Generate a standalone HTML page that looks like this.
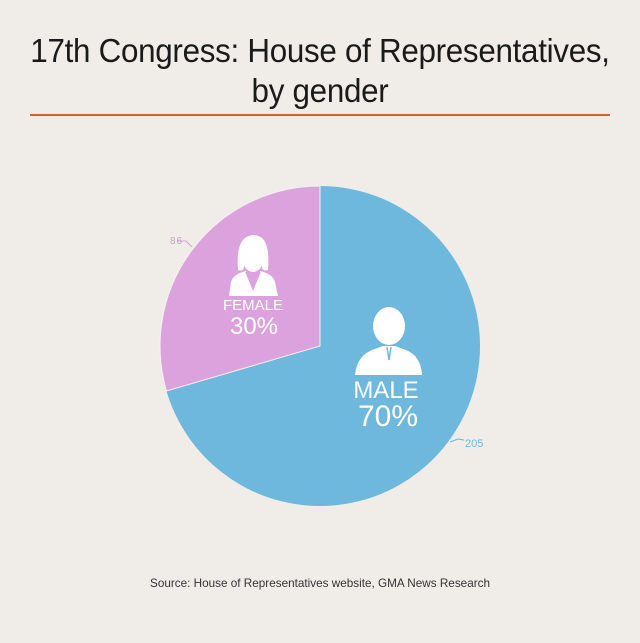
<!DOCTYPE html>
<html><head><meta charset="utf-8"><style>
html,body{margin:0;padding:0;background:#f0ede8;}
body{width:640px;height:643px;position:relative;overflow:hidden;font-family:"Liberation Sans",sans-serif;}
.t{position:absolute;left:0;width:640px;text-align:center;color:#1a1a1a;font-size:33px;letter-spacing:-0.3px;transform:scaleX(0.95);}
</style></head><body>
<div class="t" style="top:32px">17th Congress: House of Representatives,</div>
<div class="t" style="top:72px">by gender</div>
<div style="position:absolute;left:30px;top:114px;width:580px;height:2px;background:#d4622e"></div>
<svg width="640" height="643" style="position:absolute;left:0;top:0" xmlns="http://www.w3.org/2000/svg">
<circle cx="320" cy="346" r="160" fill="#6db8dc"/>
<path d="M320,346 L320,186 A160,160 0 0 0 166.5,391 Z" fill="#dca2de" stroke="#f5f0f0" stroke-width="1"/>
<polyline points="178,241 186,241 192,247" fill="none" stroke="#dca2de"/>
<text x="170" y="244" font-size="10" fill="#c9a0c9" font-family="Liberation Sans" letter-spacing="1">86</text>
<polyline points="450,442 458,439 464,440" fill="none" stroke="#6db8dc"/>
<text x="465" y="447" font-size="11" fill="#6db8dc" font-family="Liberation Sans">205</text>
<g fill="#fff">
<path d="M238,270 Q236,245 245,238 Q253,232 262,238 Q270,245 268,270 Q262,272 262,266 Q258,272 253,272 Q248,272 244,266 Q244,272 238,270 Z"/>
<path d="M229,296 L231,282 Q233,274 246,271 L253,288 L260,271 Q273,274 275,282 L278,296 Z"/>
</g>
<path d="M246,272 L253,289 L260,272" fill="none" stroke="#dca2de" stroke-width="1.5"/>
<g fill="#fff">
<ellipse cx="389" cy="326" rx="16" ry="19"/>
<path d="M355,375 Q357,356 372,350 L383,346 L395,346 L406,350 Q421,356 422,375 Z"/>
</g>
<path d="M387,347 L389,360 L391,347" fill="none" stroke="#6db8dc" stroke-width="1.5"/>
<text x="253" y="310" text-anchor="middle" font-size="15" fill="#fff" font-family="Liberation Sans">FEMALE</text>
<text x="254" y="334" text-anchor="middle" font-size="24" fill="#fff" font-family="Liberation Sans">30%</text>
<text x="386" y="398" text-anchor="middle" font-size="24" fill="#fff" font-family="Liberation Sans">MALE</text>
<text x="388" y="426" text-anchor="middle" font-size="30" fill="#fff" font-family="Liberation Sans">70%</text>
<text x="320" y="587" text-anchor="middle" font-size="12" fill="#333" font-family="Liberation Sans" textLength="340" lengthAdjust="spacingAndGlyphs">Source: House of Representatives website, GMA News Research</text>
</svg>
</body></html>
